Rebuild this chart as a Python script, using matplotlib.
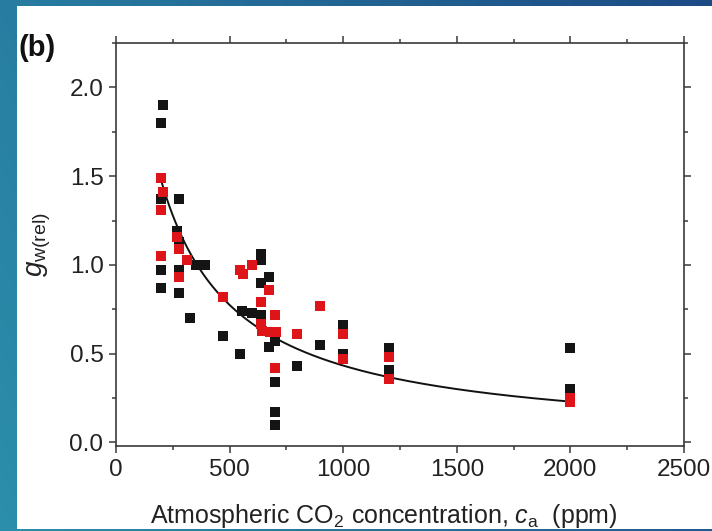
import numpy as np
import matplotlib
matplotlib.use("Agg")
import matplotlib.pyplot as plt
from matplotlib.patches import Rectangle
from matplotlib.ticker import MultipleLocator

plt.rcParams['font.family'] = ['Liberation Sans', 'DejaVu Sans']
plt.rcParams['mathtext.fontset'] = 'custom'
plt.rcParams['mathtext.rm'] = 'Liberation Sans'
plt.rcParams['mathtext.it'] = 'Liberation Sans:italic'

# data (ca in ppm, relative conductance)
black_ca = [198, 207, 198, 277, 268, 277, 198, 198, 277, 277, 326, 352, 392,
            471, 546, 555, 598, 638, 638, 638, 638, 673, 673, 700, 700, 700,
            700, 797, 898, 999, 999, 1200, 1200, 1200, 2000, 2000, 2000]
black_g = [1.80, 1.90, 1.37, 1.37, 1.19, 1.13, 0.97, 0.87, 0.97, 0.84, 0.70, 1.00, 1.00,
           0.60, 0.50, 0.74, 0.73, 1.06, 1.03, 0.90, 0.72, 0.93, 0.54, 0.57, 0.34, 0.17,
           0.10, 0.43, 0.55, 0.66, 0.50, 0.53, 0.41, 0.39, 0.53, 0.30, 0.28]

red_ca = [198, 207, 198, 268, 277, 198, 312, 277, 546, 559, 598, 673, 638, 471,
          898, 700, 638, 642, 678, 704, 797, 700, 999, 999, 1200, 1200, 2000, 2000]
red_g = [1.49, 1.41, 1.31, 1.16, 1.09, 1.05, 1.03, 0.93, 0.97, 0.95, 1.00, 0.86, 0.79, 0.82,
         0.77, 0.72, 0.67, 0.63, 0.62, 0.62, 0.61, 0.42, 0.61, 0.47, 0.48, 0.36, 0.25, 0.23]

# fitted curve g = a / (ca + c)
fit_a = 491.0
fit_c = 134.0
fit_range = (200, 2000)

W, H = 712, 531
fig = plt.figure(figsize=(W / 100, H / 100), dpi=100)

# blue frame with gradient
bg = fig.add_axes([0, 0, 1, 1], zorder=-10)
gx = np.linspace(0, 1, 256)
gy = np.linspace(0, 1, 64)
GX, GY = np.meshgrid(gx, gy)
c0 = np.array([0.17, 0.56, 0.67])
c1 = np.array([0.11, 0.29, 0.52])
t = np.clip(0.75 * GX + 0.25 * (1 - GY), 0, 1)[..., None]
bg.imshow(c0 * (1 - t) + c1 * t, aspect='auto', extent=[0, 1, 0, 1])
bg.set_axis_off()
fig.patches.append(Rectangle((17 / W, 1 - 529 / H), 1, (529 - 6) / H,
                             transform=fig.transFigure, facecolor='white',
                             edgecolor='none', zorder=-5))

ax = fig.add_axes([116 / W, 1 - 446 / H, (684 - 116) / W, (446 - 43) / H])
ax.set_facecolor('none')

xs = np.linspace(fit_range[0], fit_range[1], 300)
ax.plot(xs, fit_a / (xs + fit_c), color='#111111', lw=1.4, zorder=2)
ax.scatter(black_ca, black_g, marker='s', s=48, color='#141414', lw=0, zorder=3)
ax.scatter(red_ca, red_g, marker='s', s=48, color='#dd1418', lw=0, zorder=4)

ax.set_xlim(0, 2500)
ax.set_ylim(-0.02, 2.25)
ax.xaxis.set_major_locator(MultipleLocator(500))
ax.xaxis.set_minor_locator(MultipleLocator(250))
ax.yaxis.set_major_locator(MultipleLocator(0.5))
ax.yaxis.set_minor_locator(MultipleLocator(0.25))
ax.yaxis.set_major_formatter(plt.FormatStrFormatter('%.1f'))

for s in ax.spines.values():
    s.set_linewidth(1.2)
    s.set_color('#3a3a3a')
ax.tick_params(which='both', direction='out', top=True, right=True,
               color='#3a3a3a', width=1.1, labelsize=17.5, labelcolor='#222222')
ax.tick_params(which='major', length=5, pad=4)
ax.tick_params(which='minor', length=3)

ax.set_xlabel(r'Atmospheric CO$_2$ concentration, $c_{\mathrm{a}}$  (ppm)',
              fontsize=18, color='#222222', labelpad=10)
ax.xaxis.set_label_coords(0.472, -0.14)
ax.set_ylabel(r'$g_{\mathrm{w(rel)}}$', fontsize=20, color='#222222', labelpad=12)

fig.text(19 / W, 1 - 48 / H, '(b)', fontsize=21, fontweight='bold',
         color='#111111', va='center', ha='left')

fig.savefig('out.png', dpi=100)
